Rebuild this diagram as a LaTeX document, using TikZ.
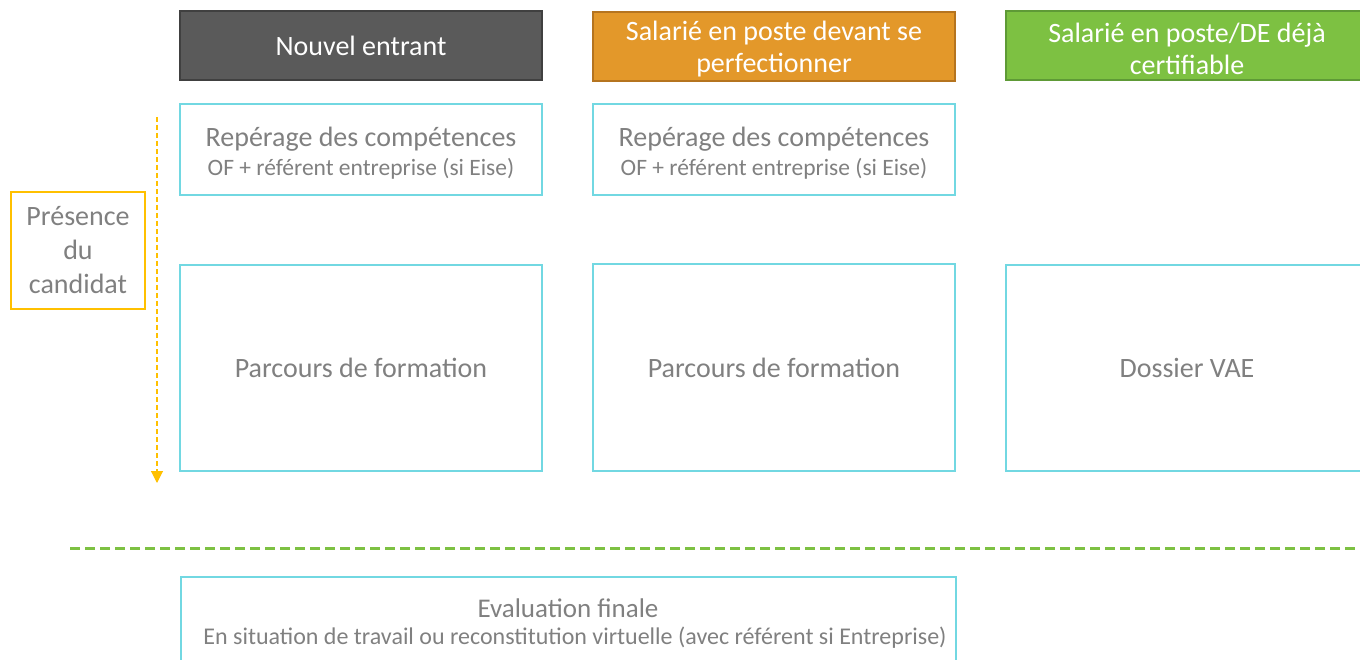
\documentclass[tikz,border=0pt]{standalone}
\usepackage{fontspec}
\setmainfont{Carlito}
\usetikzlibrary{arrows.meta}
\definecolor{txtgray}{HTML}{808080}
\definecolor{cyanb}{HTML}{72D8E2}
\definecolor{darkf}{HTML}{5A5A5A}
\definecolor{darkb}{HTML}{404040}
\definecolor{orangef}{HTML}{E3982A}
\definecolor{orangeb}{HTML}{B5741F}
\definecolor{greenf}{HTML}{7DC142}
\definecolor{greenb}{HTML}{5E9A36}
\definecolor{yellowb}{HTML}{FFC000}
\tikzset{
  hdr/.style={draw, line width=2pt, minimum width=362pt, minimum height=69pt, inner sep=0pt,
    text=white, align=center, font=\fontsize{28}{32}\selectfont},
  box/.style={draw=cyanb, line width=2pt, inner sep=0pt, align=center, text=txtgray,
    font=\fontsize{28}{32}\selectfont},
  lbl/.style={text=txtgray, align=center, inner sep=0pt},
}
\newcommand{\subfont}{\fontsize{23.5}{28}\selectfont}
\begin{document}
\begin{tikzpicture}[x=1pt,y=-1pt]
\useasboundingbox (0,0) rectangle (1360,660);
\clip (0,0) rectangle (1360,660);
% headers
\node[hdr, fill=darkf, draw=darkb] (h1) at (361,46) {\raisebox{-1pt}{Nouvel entrant}};
\node[hdr, fill=orangef, draw=orangeb] (h2) at (774,46.5) {};
\node[lbl, text=white, font=\fontsize{28}{32}\selectfont] (h2t) at (774,49.5) {Salarié en poste devant se\\perfectionner};
\node[hdr, fill=greenf, draw=greenb] (h3) at (1187,46) {};
\node[lbl, text=white, font=\fontsize{28}{32}\selectfont] (h3t) at (1187,48.5) {Salarié en poste/DE déjà\\certifiable};
% reperage
\node[box, minimum width=362pt, minimum height=91pt] (r1) at (361,149.5) {};
\node[lbl, font=\fontsize{28}{32}\selectfont] (r1t) at (361,153)
  {Repérage des compétences\\[-3pt]{\subfont OF + référent entreprise (si Eise)}};
\node[box, minimum width=362pt, minimum height=91pt] (r2) at (774,149.5) {};
\node[lbl, font=\fontsize{28}{32}\selectfont] (r2t) at (774,153)
  {Repérage des compétences\\[-3pt]{\subfont OF + référent entreprise (si Eise)}};
% presence
\node[draw=yellowb, line width=2pt, minimum width=134pt, minimum height=117pt, inner sep=0pt,
  align=center, text=txtgray, font=\fontsize{28}{34}\selectfont] (pres) at (78,250.5)
  {\raisebox{-1pt}{\parbox{130pt}{\centering Présence\\du\\candidat}}};
% parcours
\node[box, minimum width=362pt, minimum height=206pt] (p1) at (361,368) {\raisebox{-1.5pt}{Parcours de formation}};
\node[box, minimum width=362pt, minimum height=206pt] (p2) at (774,367.5) {\raisebox{-1pt}{Parcours de formation}};
\node[box, minimum width=362pt, minimum height=206pt] (p3) at (1187,368) {\raisebox{-1.5pt}{Dossier VAE}};
% time arrow
\coordinate (as) at (157,117);
\coordinate (ae) at (157,483);
\draw[yellowb, line width=1.1pt, dash pattern=on 5pt off 3pt,
  -{Triangle[length=12pt,width=12pt]}] (as) -- (ae);
% separator
\coordinate (ls) at (70,548);
\coordinate (le) at (1360,548);
\draw[greenf, line width=3pt, dash pattern=on 10pt off 5pt] (ls) -- (le);
% evaluation
\node[box, minimum width=775pt, minimum height=110pt, anchor=north west] (ev) at (180,576) {};
\node[lbl, font=\fontsize{27}{31}\selectfont] (evt) at (568,608) {Evaluation finale};
\node[lbl, font=\fontsize{24}{28}\selectfont] (evs) at (575,638)
  {En situation de travail ou reconstitution virtuelle (avec référent si Entreprise)};
\end{tikzpicture}
\end{document}
